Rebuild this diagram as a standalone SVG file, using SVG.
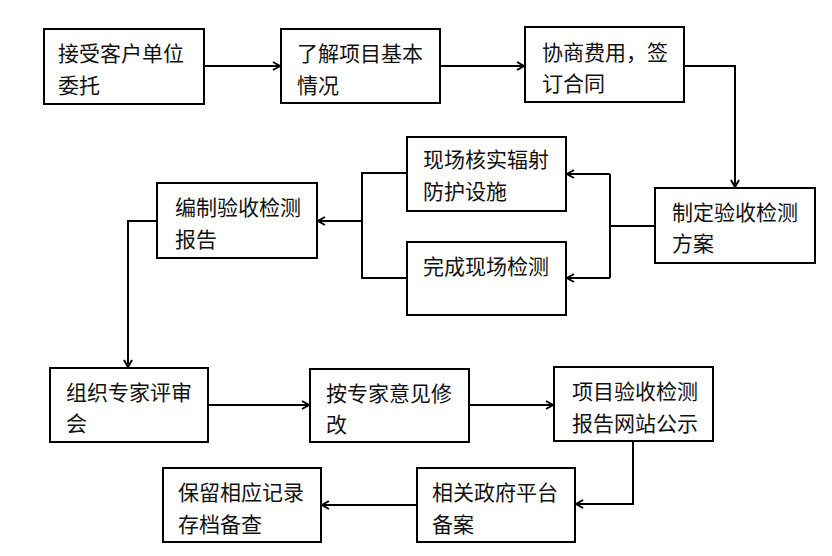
<svg xmlns="http://www.w3.org/2000/svg" width="832" height="556" viewBox="0 0 832 556">
<style>
.box{fill:#fff;stroke:#000;stroke-width:2}
.t{font-family:"Noto Sans CJK SC","Noto Sans CJK JP",sans-serif;font-size:21px;fill:#111}
.c{fill:none;stroke:#000;stroke-width:2}
.a{fill:none;stroke:#000;stroke-width:2;marker-end:url(#arr)}
</style>
<defs>
<marker id="arr" markerWidth="12" markerHeight="12" refX="9" refY="5" orient="auto" markerUnits="userSpaceOnUse">
<polyline points="2,1 9,5 2,9" fill="none" stroke="#000" stroke-width="2"/>
</marker>
</defs>
<rect width="832" height="556" fill="#fff"/>
<g id="connectors">
<path class="a" d="M204,66 H280"/>
<path class="a" d="M440,66 H524"/>
<path class="a" d="M684,66 H735 V187"/>
<path class="c" d="M655,226 H610 M610,174 V278"/>
<path class="a" d="M610,174 H567"/>
<path class="a" d="M610,278 H567"/>
<path class="c" d="M407,173 H362 V278 H407"/>
<path class="a" d="M362,221 H318"/>
<path class="a" d="M157,221 H128 V367"/>
<path class="a" d="M208,405 H309"/>
<path class="a" d="M469,405 H553"/>
<path class="a" d="M633,441 V504 H576"/>
<path class="a" d="M417,505 H322"/>
</g>
<g id="n1"><rect class="box" x="44" y="29" width="160" height="75"/><text class="t" x="58" y="61">接受客户单位</text><text class="t" x="58" y="93">委托</text></g>
<g id="n2"><rect class="box" x="281" y="29" width="159" height="74"/><text class="t" x="297" y="61">了解项目基本</text><text class="t" x="297" y="93">情况</text></g>
<g id="n3"><rect class="box" x="525" y="27" width="159" height="75"/><text class="t" x="542" y="60">协商费用，签</text><text class="t" x="542" y="91">订合同</text></g>
<g id="n4"><rect class="box" x="655" y="188" width="160" height="75"/><text class="t" x="672" y="220">制定验收检测</text><text class="t" x="672" y="251">方案</text></g>
<g id="n5"><rect class="box" x="407" y="137" width="159" height="74"/><text class="t" x="423" y="167">现场核实辐射</text><text class="t" x="423" y="199">防护设施</text></g>
<g id="n6"><rect class="box" x="407" y="242" width="159" height="73"/><text class="t" x="423" y="274">完成现场检测</text></g>
<g id="n7"><rect class="box" x="157" y="183" width="160" height="75"/><text class="t" x="175" y="215">编制验收检测</text><text class="t" x="175" y="247">报告</text></g>
<g id="n8"><rect class="box" x="50" y="368" width="158" height="74"/><text class="t" x="66" y="400">组织专家评审</text><text class="t" x="66" y="431">会</text></g>
<g id="n9"><rect class="box" x="310" y="369" width="159" height="73"/><text class="t" x="326" y="401">按专家意见修</text><text class="t" x="326" y="432">改</text></g>
<g id="n10"><rect class="box" x="554" y="367" width="159" height="74"/><text class="t" x="572" y="399">项目验收检测</text><text class="t" x="572" y="431">报告网站公示</text></g>
<g id="n11"><rect class="box" x="417" y="468" width="158" height="74"/><text class="t" x="432" y="500">相关政府平台</text><text class="t" x="432" y="532">备案</text></g>
<g id="n12"><rect class="box" x="163" y="468" width="158" height="74"/><text class="t" x="178" y="500">保留相应记录</text><text class="t" x="178" y="532">存档备查</text></g>
</svg>
